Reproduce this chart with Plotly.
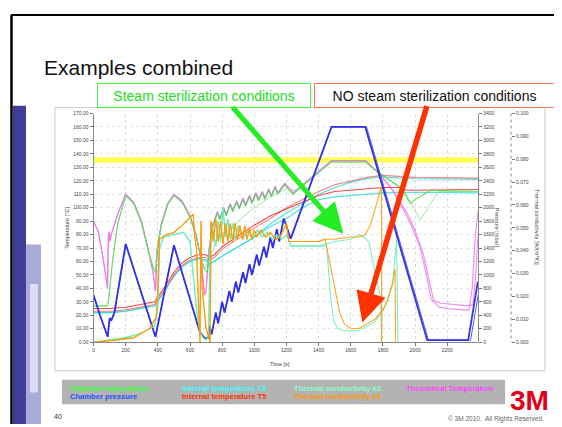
import plotly.graph_objects as go

# ---------------- data ----------------
# Chamber pressure [mbar]
t_pA = [0, 40, 88, 100, 110, 130, 200, 385, 500, 660, 690, 715, 720, 735, 760, 775, 800, 815, 845, 860,
        885, 900, 930, 945, 970, 985, 1015, 1030, 1060, 1075, 1100, 1115, 1140, 1155, 1183, 1226, 1480, 1690, 2075, 2330, 2390]
p_A = [700, 400, 80, 360, 320, 440, 1460, 80, 1440, 160, 60, 60, 240, 120, 440, 280, 600, 440, 760, 600,
       900, 740, 1040, 880, 1160, 1000, 1300, 1140, 1420, 1260, 1560, 1400, 1680, 1500, 1840, 1540, 3200, 3200, 30, 30, 900]
t_pB_tail = [1698, 2083, 2345, 2392]
p_B_tail = [3200, 30, 30, 700]

# Chamber temperature [°C]
t_gA = [0, 85, 92, 120, 150, 200, 250, 300, 340, 370, 385, 395, 420, 460, 500, 550, 600, 640, 670, 690, 708, 739,
        750, 770, 785, 810, 825, 850, 865, 890, 905, 930, 945, 970, 985, 1010, 1025, 1050, 1065, 1090, 1105, 1130, 1145,
        1190, 1240, 1260, 1480, 1690, 1785, 1909, 1971, 2000, 2095, 2392]
g_A = [27, 27, 30, 62, 88, 109, 103, 88, 68, 56, 52, 68, 86, 102, 109, 104, 93, 78, 62, 54, 52, 88,
       89, 96, 91, 99, 94, 102, 97, 104, 99, 106, 101, 108, 103, 110, 105, 111, 106, 113, 108, 115, 110,
       117, 110, 112, 134, 134, 125, 115, 103, 106, 113, 112]
t_gB_mid = [720, 760, 800, 840, 890, 950, 1000, 1050, 1100, 1150, 1200, 1260]
g_B_mid = [62, 74, 80, 85, 89, 95, 100, 104, 108, 111, 114, 113]
t_gB_tail = [1480, 1690, 1790, 1930, 2033, 2080, 2145, 2392]
g_B_tail = [134, 134, 124, 113, 91, 100, 112, 112]

# Theoretical temperature [°C]
t_mA = [0, 30, 60, 87, 92, 97, 102, 110, 150, 200, 250, 300, 340, 370, 385, 390, 395, 420, 460, 500, 550, 600, 640,
        670, 690, 700, 718, 735, 750, 770, 785, 810, 825, 850, 865, 890, 905, 930, 945, 970, 985, 1010, 1025, 1050,
        1065, 1090, 1105, 1130, 1145, 1190, 1240, 1260, 1480, 1690, 1765, 1850, 1930, 1980, 2030, 2070, 2100, 2150,
        2200, 2300, 2335, 2355, 2375, 2392]
m_A = [90, 82, 62, 40, 78, 82, 75, 80, 95, 110, 104, 89, 69, 52, 38, 55, 68, 87, 103, 110, 105, 94, 79,
       60, 35, 38, 69, 82, 90, 97, 92, 100, 95, 103, 98, 105, 100, 107, 102, 109, 104, 111, 106, 112,
       107, 114, 109, 116, 111, 118, 111, 113, 135, 135, 127, 115, 98, 86, 71, 50, 32, 26,
       25, 24, 24, 40, 80, 98]
t_mB_tail = [1770, 1860, 1950, 2000, 2050, 2085, 2115, 2160, 2250, 2330, 2360, 2380, 2392]
m_B_tail = [126, 113, 96, 83, 66, 47, 31, 29, 28, 27, 28, 55, 82]

# Internal temperature T5 [°C]
t_r = [0, 100, 200, 300, 380, 420, 460, 500, 550, 600, 650, 700, 720, 750, 800, 900, 1000, 1100]
r_A_head = [23, 23, 24, 26, 28, 35, 43, 50, 57, 61, 63, 63, 61, 63, 69, 77, 85, 92]
r_B_head = [25, 25, 26, 28, 30, 37, 45, 52, 59, 63, 65, 65, 63, 65, 71, 79, 87, 94]
t_rA_tail = [1200, 1300, 1400, 1500, 1600, 1700, 1800, 1900, 2000, 2392]
r_A_tail = [100, 106, 112, 117, 120, 122.5, 124, 123.5, 122.5, 122]
t_rB_tail = [1200, 1300, 1400, 1500, 1600, 1700, 1800, 1900, 1950, 2000, 2392]
r_B_tail = [99, 104, 109, 112, 113, 114, 115, 115, 113, 113, 113.5]

# Internal temperature T3 [°C]
t_c = [0, 100, 200, 300, 380, 420, 460, 500, 550, 600, 650, 700, 720, 750, 800, 900, 1000]
c_head = [22, 22, 23, 25, 27, 34, 42, 49, 56, 60, 62, 61, 58, 60, 64, 71, 78]
t_cA_tail = [1100, 1200, 1300, 1400, 1500, 1600, 1700, 1800, 1900, 2000, 2392]
c_A_tail = [88, 96, 103, 110, 115, 119, 121.5, 123, 122, 121.5, 121]
t_cB_tail = [1100, 1200, 1300, 1400, 1500, 1600, 1800, 2000, 2392]
c_B_tail = [86, 92, 100, 106, 108, 109, 111, 111.5, 111]

# Thermal conductivity k3 [W/(m*K)]
t_k3A = [0, 100, 200, 300, 380, 400, 410, 437, 500, 560, 600, 620, 640, 660, 680, 700, 715, 725, 740, 760,
         775, 790, 805, 820, 835, 850, 865, 880, 900, 930, 960, 990, 1020, 1050, 1080, 1110, 1140, 1170, 1200, 1230,
         1260, 1300, 1400, 1450, 1500, 1600, 1650, 1680, 1711, 1740, 1766, 1786, 1790]
k3_A = [0.000, 0.001, 0.002, 0.004, 0.007, 0.015, 0.041, 0.046, 0.047, 0.048, 0.044, 0.029, 0.015, 0.005, 0.002,
        0.001, 0.003, 0.041, 0.050, 0.042, 0.053, 0.044, 0.059, 0.046, 0.054, 0.045, 0.052, 0.045, 0.051, 0.045,
        0.049, 0.045, 0.049, 0.046, 0.048, 0.045, 0.047, 0.045, 0.047, 0.042, 0.042, 0.042, 0.042, 0.043, 0.044,
        0.045, 0.047, 0.046, 0.044, 0.034, 0.025, 0.019, 0.000]
t_k3B_tail = [1450, 1475, 1494, 1520, 1550, 1600, 1650, 1700, 1750, 1800, 1830, 1860, 1885, 1893]
k3_B_tail = [0.042, 0.019, 0.009, 0.006, 0.005, 0.005, 0.005, 0.007, 0.009, 0.014, 0.018, 0.025, 0.045, 0.000]

# Thermal conductivity k5 [W/(m*K)]
t_k5A = [0, 150, 250, 350, 390, 400, 410, 450, 500, 550, 620, 628, 640, 655, 662, 668, 675, 700, 725, 730,
         745, 760, 775, 790, 805, 820, 835, 850, 865, 880, 895, 910, 925, 940, 955, 970, 985, 1000, 1015, 1040,
         1070, 1100, 1130, 1160, 1180, 1200, 1215, 1300, 1400, 1440, 1500, 1600, 1650, 1690, 1720, 1750, 1780, 1790, 1792]
k5_A = [0.000, 0.001, 0.002, 0.006, 0.011, 0.024, 0.045, 0.047, 0.048, 0.051, 0.056, 0.047, 0.041, 0.012, 0.000,
        0.053, 0.024, 0.006, 0.000, 0.053, 0.044, 0.054, 0.044, 0.053, 0.043, 0.052, 0.044, 0.052, 0.044, 0.052,
        0.045, 0.051, 0.045, 0.051, 0.045, 0.050, 0.045, 0.049, 0.046, 0.049, 0.046, 0.048, 0.045, 0.046, 0.049,
        0.052, 0.044, 0.044, 0.044, 0.045, 0.045, 0.046, 0.046, 0.047, 0.051, 0.058, 0.066, 0.068, 0.000]
t_k5B_tail = [1470, 1500, 1530, 1560, 1600, 1650, 1700, 1750, 1800, 1830, 1860, 1875, 1878]
k5_B_tail = [0.035, 0.024, 0.013, 0.008, 0.006, 0.006, 0.008, 0.010, 0.014, 0.019, 0.026, 0.032, 0.000]

# reference sterilization temperature band
ref_temp = 135.5
time_range = [0, 2392]

x_ticks = [0, 200, 400, 600, 800, 1000, 1200, 1400, 1600, 1800, 2000, 2200]

legend_rows = [
    [("Chamber temperature", "#33ff33"), ("Internal temperature T3", "#33ffff"),
     ("Thermal conductivity k3", "#88ffcc"), ("Theoretical Temperature", "#ff44ff")],
    [("Chamber pressure", "#2255ff"), ("Internal temperature T5", "#ff3300"),
     ("Thermal conductivity k5", "#ff9900")],
]

# ---------------- figure ----------------
# the page body has an 8px default margin: the figure covers window pixels 8..562 x 8..427
OFF = 8
W, H = 562 - OFF, 427 - OFF


def X(px):
    return (px - OFF) / W


def Y(py):
    return 1 - (py - OFF) / H


fig = go.Figure()

fig.add_trace(go.Scatter(x=time_range, y=[ref_temp, ref_temp], mode="lines",
                         line=dict(color="#ffff5a", width=5.5), yaxis="y"))


def add(x, y, color, width=1.1, axis="y", opacity=0.85):
    fig.add_trace(go.Scatter(x=x, y=y, mode="lines", yaxis=axis, opacity=opacity,
                             line=dict(color=color, width=width)))


# conductivity
add(t_k3A, k3_A, "#66eebb", axis="y3")
add(t_k3A[:43] + t_k3B_tail, k3_A[:43] + k3_B_tail, "#66eebb", axis="y3")
add(t_k5A, k5_A, "#ff9900", axis="y3")
add(t_k5A[:50] + t_k5B_tail, k5_A[:50] + k5_B_tail, "#ff9900", axis="y3")
# internal temperatures
add(t_c + t_cA_tail, c_head + c_A_tail, "#33dddd")
add(t_c + t_cB_tail, c_head + c_B_tail, "#33dddd")
add(t_r + t_rA_tail, r_A_head + r_A_tail, "#f07070")
add(t_r + t_rB_tail, r_B_head + r_B_tail, "#e83030")
# theoretical temperature
add(t_mA, m_A, "#ee77ee")
add(t_mA[:54] + t_mB_tail, m_A[:54] + m_B_tail, "#ee77ee")
# chamber temperature
add(t_gA, g_A, "#44dd44")
add(t_gA[:20] + t_gB_mid + t_gB_tail, g_A[:20] + g_B_mid + g_B_tail, "#77e077", width=1.0, opacity=0.7)
# chamber pressure
add(t_pA, p_A, "#2222dd", width=1.8, axis="y2", opacity=0.9)
add(t_pA[:38] + t_pB_tail, p_A[:38] + p_B_tail, "#3333ee", width=1.0, axis="y2", opacity=0.8)

tickfont = dict(size=5, color="#444", family="Liberation Sans, Arial, sans-serif")
dom_y = [Y(344), Y(112)]

fig.update_layout(
    width=W, height=H, margin=dict(l=0, r=0, t=0, b=0),
    paper_bgcolor="white", plot_bgcolor="white", showlegend=False,
    xaxis=dict(domain=[X(92.7), X(478)], range=time_range, tickvals=x_ticks,
               ticks="outside", ticklen=3, tickcolor="#777", tickfont=tickfont,
               showline=True, linecolor="#888", linewidth=1,
               showgrid=True, gridcolor="#dcdcdc", griddash="dot", zeroline=False),
    yaxis=dict(domain=dom_y, range=[0, 170], dtick=10, tickformat=".2f",
               ticks="outside", ticklen=3, tickcolor="#777", tickfont=tickfont,
               showline=True, linecolor="#888", linewidth=1,
               showgrid=True, gridcolor="#e4e4e4", griddash="dot", zeroline=False),
    yaxis2=dict(overlaying="y", anchor="free", position=X(478), side="right",
                range=[0, 3400], dtick=200, ticks="outside", ticklen=3, tickcolor="#777",
                tickfont=tickfont, showline=True, linecolor="#888", linewidth=1,
                showgrid=False, zeroline=False),
    yaxis3=dict(overlaying="y", anchor="free", position=X(511), side="right",
                range=[0, 0.1], dtick=0.01, tickformat=".3f", ticks="outside", ticklen=3,
                tickcolor="#777", tickfont=tickfont, showline=False, showgrid=False, zeroline=False),
)

shapes = [
    # slide frame
    dict(type="line", x0=X(10), x1=X(562), y0=Y(12), y1=Y(12), line=dict(color="black", width=2)),
    dict(type="line", x0=X(10.5), x1=X(10.5), y0=Y(12), y1=Y(427), line=dict(color="black", width=2.5)),
    dict(type="rect", x0=X(25), x1=X(40), y0=Y(245), y1=Y(427), fillcolor="#a9a9dc", line=dict(width=0)),
    dict(type="rect", x0=X(29), x1=X(37), y0=Y(285), y1=Y(395), fillcolor="#dcdcf4", line=dict(width=0)),
    dict(type="rect", x0=X(12), x1=X(25), y0=Y(104), y1=Y(427), fillcolor="#3e3e98", line=dict(width=0)),
    # chart panel
    dict(type="rect", x0=X(54), x1=X(545), y0=Y(106), y1=Y(373), line=dict(color="#cccccc", width=1),
         layer="below"),
    # legend panel
    dict(type="rect", x0=X(61), x1=X(505), y0=Y(382), y1=Y(407), fillcolor="#b3b3b3", line=dict(width=0)),
    # dotted conductivity axis
    dict(type="line", x0=X(511), x1=X(511), y0=Y(112), y1=Y(344), line=dict(color="#888", width=1, dash="dot")),
]
for s in shapes:
    s["xref"] = "paper"
    s["yref"] = "paper"
fig.update_layout(shapes=shapes)

ann = []
small = dict(size=5.5, color="#444", family="Liberation Sans, Arial, sans-serif")
ann.append(dict(text="Temperature [°C]", x=X(66), y=Y(228), textangle=-90, font=small))
ann.append(dict(text="Pressure [mbar]", x=X(497), y=Y(228), textangle=90, font=small))
ann.append(dict(text="Thermal conductivity [W/(m*K)]", x=X(537), y=Y(227), textangle=90, font=small))
ann.append(dict(text="Time [s]", x=X(279), y=Y(366), font=small))

ann.append(dict(text="Examples combined", x=X(41), y=Y(65), xanchor="left",
                font=dict(size=21, color="#111", family="Liberation Sans, Arial, sans-serif")))

ann.append(dict(text="Steam sterilization conditions", x=X(203), y=Y(93.5), width=210, height=21,
                bordercolor="#44ff44", borderwidth=1, bgcolor="white",
                font=dict(size=14, color="#22dd22", family="Liberation Sans, Arial, sans-serif")))
ann.append(dict(text="NO steam sterilization conditions", x=X(434.5), y=Y(93.5), width=237, height=21,
                bordercolor="#ff7755", borderwidth=1, bgcolor="white",
                font=dict(size=14, color="#111", family="Liberation Sans, Arial, sans-serif")))

# arrows
ann.append(dict(text="", x=X(343), y=Y(234), ax=231 - 343, ay=106 - 234, showarrow=True,
                arrowhead=2, arrowsize=1.2, arrowwidth=5, arrowcolor="#22ee22"))
ann.append(dict(text="", x=X(362), y=Y(324), ax=427 - 362, ay=106 - 324, showarrow=True,
                arrowhead=2, arrowsize=1.1, arrowwidth=5.5, arrowcolor="#ff3300"))

# legend text
col_x = [67, 179, 292, 404]
row_y = [390.5, 399.5]
for r, row in enumerate(legend_rows):
    for c, (label, color) in enumerate(row):
        ann.append(dict(text="<b>" + label + "</b>", x=X(col_x[c]), y=Y(row_y[r]), xanchor="left",
                        font=dict(size=7.6, color=color, family="Liberation Sans, Arial, sans-serif")))

ann.append(dict(text="40", x=X(51), y=Y(419), xanchor="left",
                font=dict(size=7, color="#333", family="Liberation Sans, Arial, sans-serif")))
ann.append(dict(text="© 3M 2010.  All Rights Reserved.", x=X(546), y=Y(422), xanchor="right",
                font=dict(size=6.5, color="#666", family="Liberation Sans, Arial, sans-serif")))
ann.append(dict(text="<b>3M</b>", x=X(529), y=Y(403),
                font=dict(size=28, color="#e2001a", family="Liberation Sans, Arial, sans-serif")))

for a in ann:
    a.setdefault("xref", "paper")
    a.setdefault("yref", "paper")
    a.setdefault("showarrow", False)
    a.setdefault("xanchor", "center")
    a.setdefault("yanchor", "middle")
fig.update_layout(annotations=ann)

fig.write_html("out.html")
